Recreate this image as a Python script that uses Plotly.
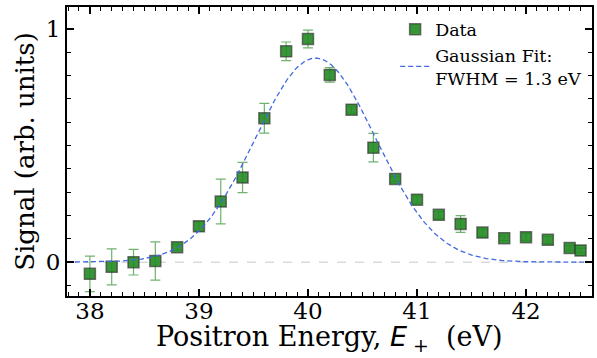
import numpy as np
import plotly.graph_objects as go

energy = [38.0, 38.2, 38.4, 38.6, 38.8, 39.0, 39.2, 39.4, 39.6, 39.8, 40.0, 40.2,
          40.4, 40.6, 40.8, 41.0, 41.2, 41.4, 41.6, 41.8, 42.0, 42.2, 42.4, 42.5]
signal = [-0.05, -0.02, 0.0, 0.005, 0.064, 0.154, 0.26, 0.363, 0.617, 0.904, 0.957, 0.803,
          0.654, 0.491, 0.357, 0.268, 0.203, 0.164, 0.127, 0.103, 0.107, 0.096, 0.061, 0.05]
signal_err = [0.076, 0.077, 0.055, 0.082, 0.012, 0.02, 0.096, 0.065, 0.064, 0.04, 0.038, 0.031,
              0.015, 0.061, 0.01, 0.015, 0.015, 0.036, 0.015, 0.01, 0.015, 0.015, 0.01, 0.01]

x_ticks = [38, 39, 40, 41, 42]
y_ticks = [0, 1]

fit_amplitude = 0.875
fit_center = 40.07
fit_fwhm = 1.3

X_RANGE = [37.79, 42.605]
Y_RANGE = [-0.145, 1.094]

sigma = fit_fwhm / (2 * np.sqrt(2 * np.log(2)))
fit_x = np.linspace(X_RANGE[0], X_RANGE[1], 400)
fit_y = fit_amplitude * np.exp(-(fit_x - fit_center) ** 2 / (2 * sigma ** 2))

SERIF = "DejaVu Serif"

fig = go.Figure()

fig.add_shape(type="line", xref="paper", yref="y", x0=0, x1=1, y0=0, y1=0,
              line=dict(color="#bbbbbb", width=0.8, dash="dash"), layer="below")

fig.add_trace(go.Scatter(
    x=energy, y=signal, mode="markers", name="Data",
    marker=dict(symbol="square", size=11, color="rgba(34,139,34,0.9)",
                line=dict(color="rgba(50,50,50,0.65)", width=1.5)),
    error_y=dict(type="data", array=signal_err, visible=True,
                 color="rgba(34,139,34,0.65)", thickness=1.2, width=5),
))

fig.add_trace(go.Scatter(
    x=fit_x, y=fit_y, mode="lines", name="Gaussian Fit:<br>FWHM = 1.3 eV",
    line=dict(color="royalblue", width=1.3, dash="5px,3px"),
))

# invisible trace to hold the mirrored (top/right) tick axes
fig.add_trace(go.Scatter(x=[X_RANGE[0]], y=[Y_RANGE[0]], xaxis="x2", yaxis="y2",
                         mode="markers", marker=dict(opacity=0), showlegend=False,
                         hoverinfo="skip"))

axis_common = dict(
    showgrid=False, zeroline=False, showline=True, linecolor="black", linewidth=2,
    ticks="inside", ticklen=7, tickwidth=1.5, tickcolor="black",
    tickfont=dict(family=SERIF, size=23, color="black"),
)
minor_x = dict(dtick=0.1, tick0=38, ticks="inside", ticklen=4, tickwidth=1.2, tickcolor="black")
minor_y = dict(dtick=0.1, tick0=0, ticks="inside", ticklen=4, tickwidth=1.2, tickcolor="black")

fig.update_layout(
    xaxis=dict(
        range=X_RANGE, tickmode="array", tickvals=x_ticks, ticktext=[str(v) for v in x_ticks],
        minor=minor_x, ticklabelstandoff=-7,
        **axis_common,
    ),
    yaxis=dict(
        range=Y_RANGE, tickmode="array", tickvals=y_ticks, ticktext=[str(v) for v in y_ticks],
        minor=minor_y,
        title=dict(text="Signal (arb. units)", font=dict(family=SERIF, size=26, color="black"), standoff=4),
        **axis_common,
    ),
    xaxis2=dict(range=X_RANGE, overlaying="x", side="top", anchor="y2", showticklabels=False,
                tickmode="array", tickvals=x_ticks, minor=minor_x, **axis_common),
    yaxis2=dict(range=Y_RANGE, overlaying="y", side="right", anchor="x2", showticklabels=False,
                tickmode="array", tickvals=y_ticks, minor=minor_y, **axis_common),
)

fig.add_annotation(
    text="Positron Energy, <span style=\"font-family:DejaVu Sans\"><i>E</i></span><sub> +</sub>  (eV)",
    xref="paper", yref="paper", x=0.5, y=-0.147, xanchor="center", yanchor="middle",
    showarrow=False, font=dict(family=SERIF, size=27, color="black"),
)

fig.update_layout(
    width=597, height=358,
    margin=dict(l=67, r=5, t=7, b=62),
    plot_bgcolor="white", paper_bgcolor="white",
    showlegend=True,
    legend=dict(x=0.625, y=0.985, xanchor="left", yanchor="top",
                font=dict(family=SERIF, size=17.5, color="black"),
                bgcolor="rgba(255,255,255,0)", tracegroupgap=6),
)

fig.write_html("out.html")
